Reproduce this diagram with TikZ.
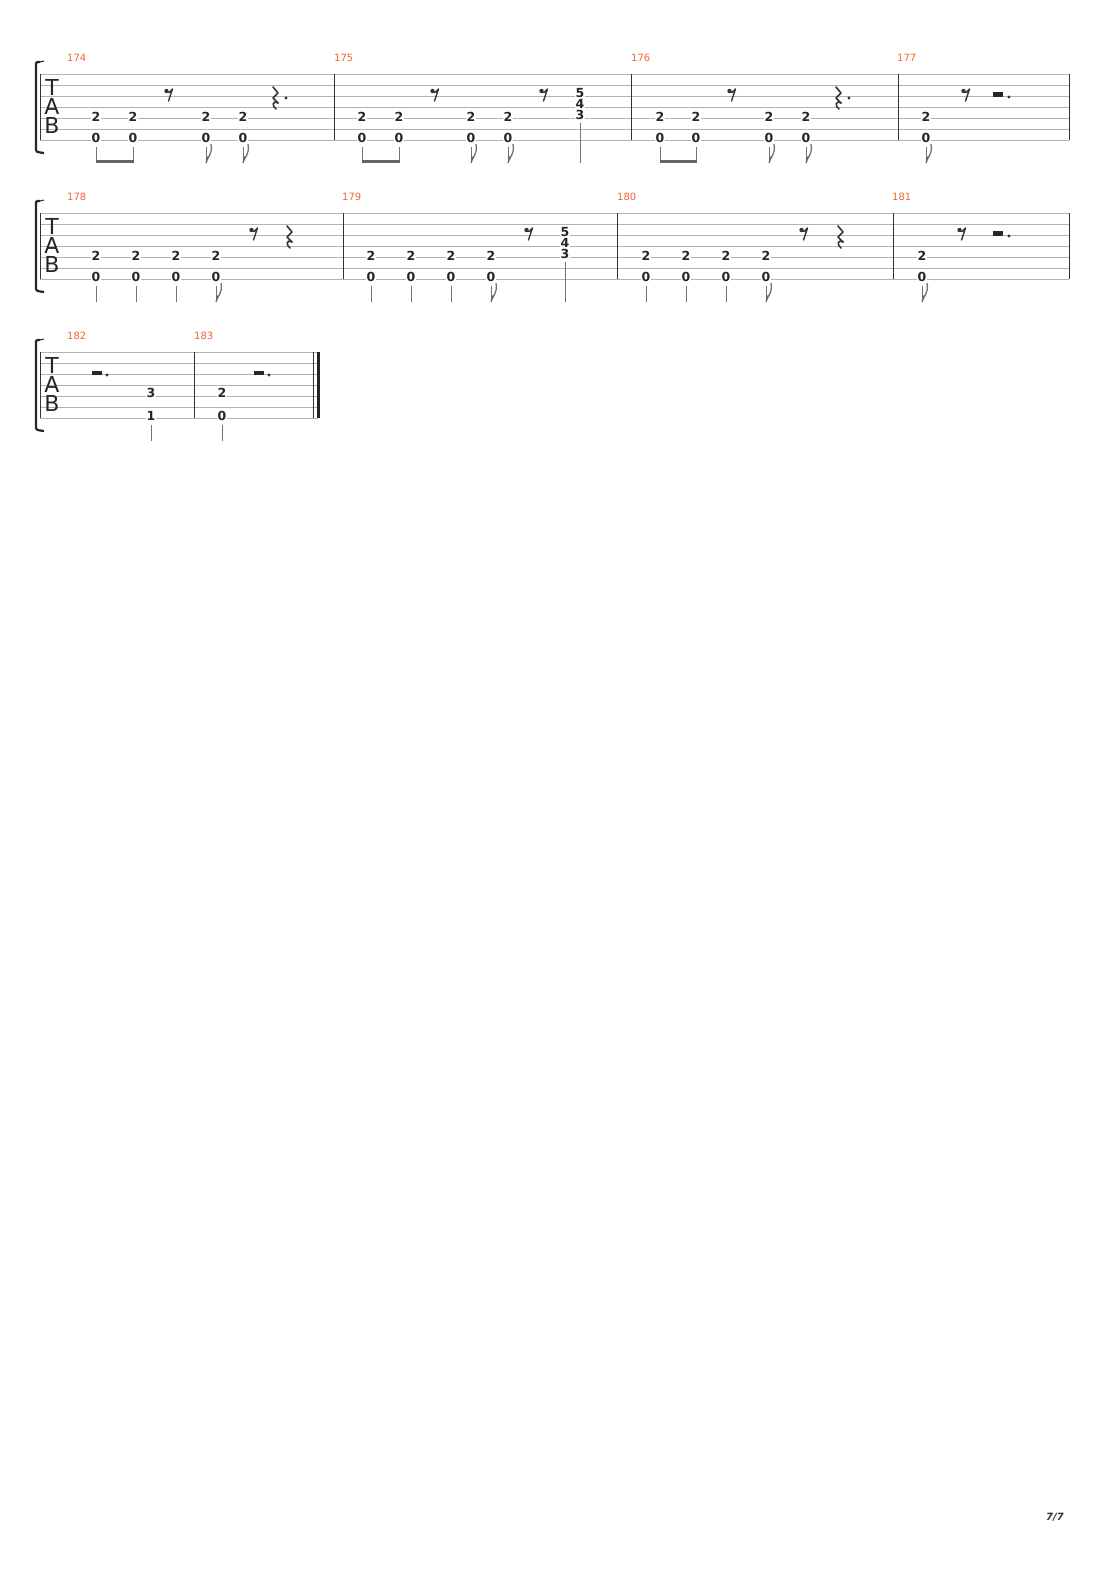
\documentclass[tikz,border=0pt]{standalone}
\usepackage{fontspec}
\setmainfont{DejaVu Sans}
\begin{document}
\begin{tikzpicture}[x=1pt,y=-1pt,
  staffline/.style={draw=black!30,line width=0.7pt},
  barline/.style={draw=black!80,line width=1pt},
  fret/.style={fill=white,inner sep=0.6pt,font=\fontsize{12.5}{13}\selectfont\bfseries,text=black!85},
  mnum/.style={anchor=west,inner sep=0pt,font=\fontsize{10}{10}\selectfont,text={rgb,255:red,240;green,100;blue,50}},
  stemst/.style={draw=black!55,line width=1pt},
  tabl/.style={font=\fontsize{22}{22}\selectfont,text=black!85,inner sep=0pt},
  reststyle/.style={draw=black!80,line width=1.6pt,line cap=round,line join=round}]
\useasboundingbox (0,0) rectangle (1110,1570);
\newcommand\staffsys[1]{%
  \foreach \i in {0,...,6} \draw[staffline] (40,74+11*\i) -- (#1,74+11*\i);
  \draw[barline] (40,74) -- (40,140);
  \draw[line width=2.2pt,black!85] (40,62) .. controls (36,62) .. (36,66) -- (36,148) .. controls (36,152) .. (44,153);
  \draw[line width=1pt,black!85] (36,63) -- (44,61);
  \node[tabl] (T) at (52,87) {T};
  \node[tabl] (A) at (52,106) {A};
  \node[tabl] (B) at (52,125) {B};}
\newcommand\pn[1]{\node[fret] at (#1,117) {2};\node[fret] at (#1,138) {0};}
\newcommand\plain[1]{\draw[stemst] (#1,147) -- (#1,163);}
\newcommand\flagged[1]{\draw[stemst] (#1,147) -- (#1,163);
  \draw[stemst,line width=1.3pt] (#1,163) .. controls (#1+1,157) and (#1+7,155) .. (#1+5,144);
  \fill[black!60] (#1,163) -- (#1,157) -- (#1+3,156) -- cycle;}
\newcommand\beamed[2]{\draw[stemst] (#1,147) -- (#1,163);\draw[stemst] (#2,147) -- (#2,163);
  \fill[black!60] (#1-0.5,160) rectangle (#2+0.5,163);}
\newcommand\erest[2]{\fill[black!80] (#1-2.5,#2-3) circle (2.2pt);
  \draw[reststyle,line width=1.4pt] (#1-3,#2-2) .. controls (#1,#2-1) .. (#1+3.5,#2-5) -- (#1-0.5,#2+7);}
\newcommand\qrest[2]{\draw[reststyle] (#1-2,#2-11) -- (#1+3,#2-5) -- (#1-2,#2) -- (#1+3,#2+5);
  \draw[reststyle] (#1+3,#2+5) .. controls (#1-3,#2+2) and (#1-3,#2+8) .. (#1+1,#2+11);}
\newcommand\hrest[2]{\fill[black!85] (#1-5,#2-2.5) rectangle (#1+5,#2+2);}
\newcommand\chord[1]{\node[fret] at (#1,93) {5};\node[fret] at (#1,104) {4};\node[fret] at (#1,115) {3};
  \draw[stemst] (#1,123) -- (#1,163);}
% ---- system 1
\begin{scope}
\staffsys{1069}
\foreach \x in {334,631,898} \draw[barline] (\x,74) -- (\x,140);
\draw[barline] (1069,74) -- (1069,140);
\node[mnum] at (67,58) {174};\node[mnum] at (334,58) {175};\node[mnum] at (631,58) {176};\node[mnum] at (897,58) {177};
\foreach \x in {96,133,206,243,362,399,471,508,660,696,769,806,926} {\pn{\x}}
\beamed{96}{133}\flagged{206}\flagged{243}
\beamed{362}{399}\flagged{471}\flagged{508}
\beamed{660}{696}\flagged{769}\flagged{806}\flagged{926}
\erest{169}{94}\qrest{275}{98}\fill[black!80] (286,98) circle (1.6pt);
\erest{435}{94}\erest{544}{94}\chord{580}
\erest{732}{94}\qrest{838}{98}\fill[black!80] (849,98) circle (1.6pt);
\erest{966}{94}\hrest{998}{95}\fill[black!80] (1009,97) circle (1.6pt);
\end{scope}
% ---- system 2
\begin{scope}[yshift=-139pt]
\staffsys{1069}
\foreach \x in {343,617,893} \draw[barline] (\x,74) -- (\x,140);
\draw[barline] (1069,74) -- (1069,140);
\node[mnum] at (67,58) {178};\node[mnum] at (342,58) {179};\node[mnum] at (617,58) {180};\node[mnum] at (892,58) {181};
\foreach \x in {96,136,176,216,371,411,451,491,646,686,726,766,922} {\pn{\x}}
\foreach \x in {96,136,176,371,411,451,646,686,726} {\plain{\x}}
\flagged{216}\flagged{491}\flagged{766}\flagged{922}
\erest{254}{94}\qrest{289}{98}
\erest{529}{94}\chord{565}
\erest{804}{94}\qrest{840}{98}
\erest{962}{94}\hrest{998}{95}\fill[black!80] (1009,97) circle (1.6pt);
\end{scope}
% ---- system 3
\begin{scope}[yshift=-278pt]
\staffsys{318}
\draw[barline] (194,74) -- (194,140);
\draw[barline] (313,74) -- (313,140);
\draw[line width=3pt,black!85] (318.5,74) -- (318.5,140);
\node[mnum] at (67,58) {182};\node[mnum] at (194,58) {183};
\node[fret] at (151,115) {3};\node[fret] at (151,138) {1};\plain{151}
\node[fret] at (222,115) {2};\node[fret] at (222,138) {0};\plain{222}
\hrest{97}{95}\fill[black!80] (107,97) circle (1.6pt);
\hrest{259}{95}\fill[black!80] (269,97) circle (1.6pt);
\end{scope}
\node[font=\fontsize{10}{10}\selectfont\itshape\bfseries,text=black!80] (pg) at (1055,1517) {7/7};
\end{tikzpicture}
\end{document}
